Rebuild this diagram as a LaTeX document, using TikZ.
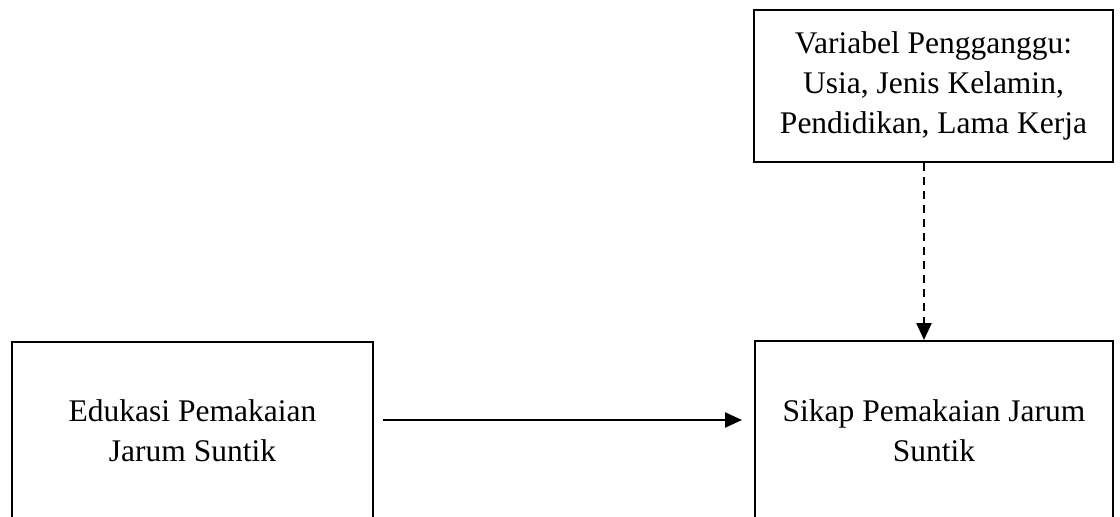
\documentclass[tikz,border=0pt]{standalone}
\usepackage{fontspec}
\setmainfont{Liberation Serif}
\usetikzlibrary{arrows.meta}
\begin{document}
\begin{tikzpicture}[x=1pt,y=-1pt,
  box/.style={draw, line width=2pt, align=center, inner sep=0pt, font=\fontsize{31.5}{40}\selectfont},
  arr/.style={line width=2.5pt, -{Triangle[length=17pt,width=15pt]}},
  dasharr/.style={arr, dash pattern=on 8pt off 6pt}]
\useasboundingbox (0,0) rectangle (1120,517);
\clip (0,0) rectangle (1120,517);
\node[box, minimum width=359pt, minimum height=152pt] (conf) at (933.5,86) {Variabel Pengganggu:\\Usia, Jenis Kelamin,\\Pendidikan, Lama Kerja};
\node[box, minimum width=361pt, minimum height=178pt] (edu) at (192.5,431) {Edukasi Pemakaian\\Jarum Suntik};
\node[box, minimum width=358pt, minimum height=179pt] (sikap) at (934,430.5) {Sikap Pemakaian Jarum\\Suntik};
\draw[arr] ([xshift=9pt,yshift=11pt]edu.east) -- ([xshift=-12pt,yshift=10.5pt]sikap.west);
\draw[dasharr] ([xshift=-9.5pt]conf.south) -- ([xshift=-10pt]sikap.north);
\end{tikzpicture}
\end{document}
